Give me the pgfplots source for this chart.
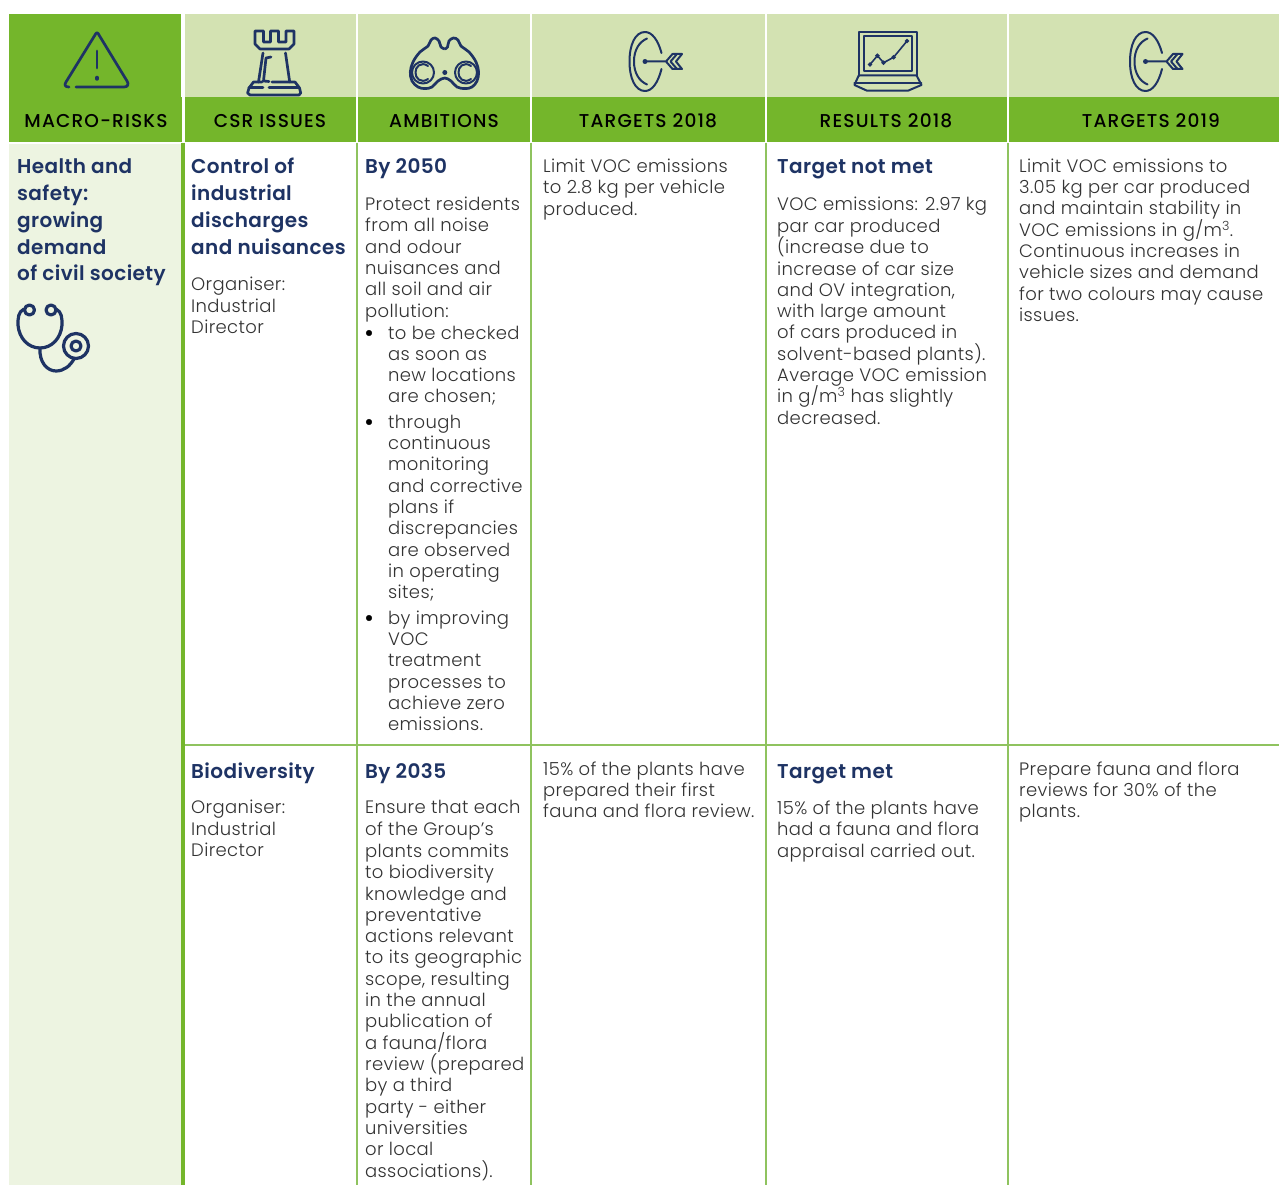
\documentclass[border=0pt]{standalone}
\usepackage{pgfplots}
\usepackage{fontspec}
\pgfplotsset{compat=1.18}
\setmainfont{Poppins}[UprightFont=* Light,BoldFont=* SemiBold,LetterSpace=2]
\newfontfamily\med{Poppins Medium}[LetterSpace=6]
\definecolor{gr}{HTML}{74B62B}
\definecolor{pale}{HTML}{D3E2B2}
\definecolor{lft}{HTML}{EDF4E1}
\definecolor{navy}{HTML}{1E3364}
\definecolor{ln}{HTML}{8FC35F}
\definecolor{body}{HTML}{333333}
\newcommand\R[5]{\addplot[fill=#1,draw=none,forget plot] coordinates {(#2,#3) (#4,#3) (#4,#5) (#2,#5)} --cycle;}
\newcommand\V[3]{\addplot[ln,line width=1.5pt,forget plot] coordinates {(#1,#2) (#1,#3)};}
\newcommand\W[3]{\addplot[white,line width=1.5pt,forget plot] coordinates {(#1,#2) (#1,#3)};}
% body text: x, baseline y
\newcommand\T[3]{\node[anchor=base west,inner sep=0pt,text=body,font=\fontsize{18}{20}\selectfont] at (axis cs:#1,#2) {#3};}
\newcommand\B[3]{\node[anchor=base west,inner sep=0pt,text=navy,font=\fontsize{20}{22}\selectfont\bfseries] at (axis cs:#1,#2) {#3};}
\newcommand\HD[2]{\node[anchor=base,inner sep=0pt,text=black,font=\fontsize{18.6}{20}\selectfont\med] at (axis cs:#1,127.5) {#2};}
\tikzset{icon/.style={draw=navy,line width=2.7pt,line cap=round,line join=round},
 thin icon/.style={icon,line width=2pt}}
\newcommand\Target[1]{%
\draw[thin icon,xshift=#1pt] (661.5,53) .. controls (658,40) and (652,32) .. (645,32) .. controls (635,32) and (629.5,45) .. (629.5,61.5) .. controls (629.5,78) and (635,91) .. (645,91) .. controls (652,91) and (658,83) .. (661.5,69);
\draw[thin icon,xshift=#1pt] (647,38.5) .. controls (639,42) and (634,50) .. (634,61.5) .. controls (634,73) and (639,81) .. (647,84.5);
\draw[thin icon,xshift=#1pt] (645,61.5) -- (666,61.5) -- (672.5,54) -- (682,54) -- (676,61.5) -- (682,69) -- (672.5,69) -- (666,61.5);
\draw[thin icon,xshift=#1pt] (677,54) -- (670.5,61.5) -- (677,69);
\fill[navy,xshift=#1pt] (645,61.5) circle (2.5pt);}
\begin{document}
\begin{tikzpicture}
\begin{axis}[scale only axis,width=1279pt,height=1185pt,xmin=0,xmax=1279,ymin=0,ymax=1185,y dir=reverse,axis lines=none,clip=true]
\R{white}{0}{0}{1279}{1185}
\R{gr}{9}{14}{181}{97}
\R{pale}{185}{14}{1279}{97}
\R{gr}{9}{97}{1279}{142}
\R{lft}{9}{144}{181}{1185}
\R{gr}{181}{143}{185}{1185}
\W{357}{14}{142}
\W{531}{14}{142}
\W{766}{14}{142}
\W{1008}{14}{142}
\addplot[white,line width=3pt,forget plot] coordinates {(183,14) (183,142)};
\V{357}{143}{1185}
\V{531}{143}{1185}
\V{766}{143}{1185}
\V{1008}{143}{1185}
\addplot[ln,line width=1.5pt,forget plot] coordinates {(185,745) (1279,745)};
\addplot[only marks,mark=*,mark size=2.8pt,black,forget plot] coordinates {(369,333) (369,422) (369,618)};
% icons
\draw[icon] (76,87) -- (124,87) .. controls (128,87) and (129,84) .. (127,81) -- (99,35) .. controls (97.5,32) and (96.5,32) .. (95,35) -- (66,82) .. controls (64,85) and (65,87) .. (69,87);
\draw[icon] (97,51) -- (97,68);
\draw[icon,line width=3.5pt] (97,77.5) -- (97,79);
\draw[icon] (255,31) -- (263.5,31) -- (263.5,42) -- (270.5,42) -- (270.5,31) -- (278.5,31) -- (278.5,42) -- (286,42) -- (286,31) -- (294,31) -- (294,44) -- (289,49) -- (260,49) -- (255,44) -- cycle;
\draw[icon] (263,53) -- (258.5,82);
\draw[icon] (271,57) -- (266,58) -- (263.5,81) -- (269,81.5);
\draw[icon] (285.5,53) -- (289.7,82);
\draw[icon] (272,82) -- (295,82) -- (299.5,88) -- (300.7,93) -- (299,95) -- (250,95) -- (247.6,93) -- (249,88) -- (253.5,82) -- (262,82);
\draw[icon] (249,87.5) -- (263,87.5);
\draw[icon] (269,87.5) -- (299,87.5);
\addplot[navy,line width=2.7pt,smooth,tension=0.6,forget plot] coordinates {(444.8,49) (441,47) (439,41) (435,38) (431,40) (428,46) (420,52) (413,62) (410.3,72) (412,81) (418,87) (425,88.6) (432,87) (438,81) (444.8,78) (451,81) (457,87) (465,88.6) (472,87) (477,81) (478.6,72) (476,62) (469,52) (461,46) (458,40) (453.5,38) (449,41) (447.5,47) (444.8,49)};
\draw[thin icon] (423,72.5) circle (11pt);
\draw[thin icon] (466,72.5) circle (11pt);
\draw[thin icon] (428,66) .. controls (421,61) and (415,67) .. (415.5,72.5) .. controls (415,78) and (421,84) .. (428,79);
\draw[thin icon] (471,66) .. controls (464,61) and (458,67) .. (458.5,72.5) .. controls (458,78) and (464,84) .. (471,79);
\fill[navy] (444.8,72.5) circle (2.5pt);
\Target{0}
\Target{500.5}
\draw[thin icon] (858.7,76) -- (858.7,32) -- (916.6,32) -- (916.6,76);
\draw[thin icon] (863.5,36.5) rectangle (912,71);
\draw[thin icon] (858.7,75.5) -- (916.6,75.5) -- (921.4,85) -- (908,90.7) -- (867,90.7) -- (854.4,85) -- cycle;
\draw[thin icon] (854.4,82.7) -- (921.4,82.7);
\addplot[navy,line width=1.6pt,mark=*,mark size=1.3pt,forget plot] coordinates {(870,64.5) (877.4,55.7) (883.6,62.7) (893.6,57.3) (907,41)};
\draw[icon,line width=3.2pt] (24,309) .. controls (18,312) and (18,318) .. (18,325) .. controls (19,338) and (28,348) .. (40,348) .. controls (52,348) and (61,338) .. (62,325) .. controls (62,318) and (62,312) .. (56,309);
\draw[icon,line width=3.2pt] (29.5,310) circle (5pt);
\draw[icon,line width=3.2pt] (51,310) circle (5pt);
\draw[icon,line width=3.2pt] (40,348) .. controls (39,362) and (47,371) .. (56,371) .. controls (64,371) and (70,366) .. (74,359);
\draw[icon,line width=3.2pt] (76,346) circle (12.5pt);
\draw[icon,line width=3.2pt] (76,346) circle (5pt);
% headers
\HD{96}{MACRO-RISKS}
\HD{270}{CSR ISSUES}
\HD{444}{AMBITIONS}
\HD{648}{TARGETS 2018}
\HD{886}{RESULTS 2018}
\HD{1151}{TARGETS 2019}
% column 1
\B{17}{174}{Health and}
\B{17}{200.5}{safety:}
\B{17}{227}{growing}
\B{17}{254}{demand}
\B{17}{280.5}{of civil society}
% column 2
\B{191}{174}{Control of}
\B{191}{200.5}{industrial}
\B{191}{227}{discharges}
\B{191}{254}{and nuisances}
\T{191}{290}{Organiser:}
\T{191}{312}{Industrial}
\T{191}{333}{Director}
\B{191}{778}{Biodiversity}
\T{191}{813.5}{Organiser:}
\T{191}{835.5}{Industrial}
\T{191}{856.5}{Director}
% column 3
\B{365}{174}{By 2050}
\T{365}{210.5}{Protect residents}
\T{365}{231.5}{from all noise}
\T{365}{253.5}{and odour}
\T{365}{274.5}{nuisances and}
\T{365}{295.5}{all soil and air}
\T{365}{317.5}{pollution:}
\T{388}{339.5}{to be checked}
\T{388}{360.5}{as soon as}
\T{388}{381.5}{new locations}
\T{388}{402.5}{are chosen;}
\T{388}{428.5}{through}
\T{388}{449.5}{continuous}
\T{388}{470.5}{monitoring}
\T{388}{492.5}{and corrective}
\T{388}{513.5}{plans if}
\T{388}{534.5}{discrepancies}
\T{388}{556.5}{are observed}
\T{388}{577.5}{in operating}
\T{388}{598.5}{sites;}
\T{388}{624.5}{by improving}
\T{388}{645.5}{VOC}
\T{388}{666.5}{treatment}
\T{388}{688.5}{processes to}
\T{388}{709.5}{achieve zero}
\T{388}{730.5}{emissions.}
\B{365}{778}{By 2035}
\T{365}{813.5}{Ensure that each}
\T{365}{835.5}{of the Group's}
\T{365}{857.5}{plants commits}
\T{365}{878.5}{to biodiversity}
\T{365}{900.5}{knowledge and}
\T{365}{921.5}{preventative}
\T{365}{942.5}{actions relevant}
\T{365}{963.5}{to its geographic}
\T{365}{985.5}{scope, resulting}
\T{365}{1006.5}{in the annual}
\T{365}{1027.5}{publication of}
\T{365}{1049.5}{a fauna/flora}
\T{365}{1070.5}{review (prepared}
\T{365}{1091.5}{by a third}
\T{365}{1113.5}{party - either}
\T{365}{1134.5}{universities}
\T{365}{1155.5}{or local}
\T{365}{1177.5}{associations).}
% column 4
\T{543}{172.5}{Limit VOC emissions}
\T{543}{193.5}{to 2.8 kg per vehicle}
\T{543}{215.5}{produced.}
\T{543}{775.5}{15\% of the plants have}
\T{543}{796.5}{prepared their first}
\T{543}{817.5}{fauna and flora review.}
% column 5
\B{777}{174}{Target not met}
\T{777}{210.5}{VOC emissions: 2.97 kg}
\T{777}{232.5}{par car produced}
\T{777}{253.5}{(increase due to}
\T{777}{275}{increase of car size}
\T{777}{296.5}{and OV integration,}
\T{777}{317.5}{with large amount}
\T{777}{338.5}{of cars produced in}
\T{777}{360.5}{solvent-based plants).}
\T{777}{381.5}{Average VOC emission}
\T{777}{402.5}{in g/m\textsuperscript{3} has slightly}
\T{777}{424.5}{decreased.}
\B{777}{778}{Target met}
\T{777}{814.5}{15\% of the plants have}
\T{777}{835.5}{had a fauna and flora}
\T{777}{857.5}{appraisal carried out.}
% column 6
\T{1019}{172.5}{Limit VOC emissions to}
\T{1019}{193.5}{3.05 kg per car produced}
\T{1019}{214.5}{and maintain stability in}
\T{1019}{236.5}{VOC emissions in g/m\textsuperscript{3}.}
\T{1019}{257.5}{Continuous increases in}
\T{1019}{278.5}{vehicle sizes and demand}
\T{1019}{300.5}{for two colours may cause}
\T{1019}{321.5}{issues.}
\T{1019}{775.5}{Prepare fauna and flora}
\T{1019}{796.5}{reviews for 30\% of the}
\T{1019}{817.5}{plants.}
\end{axis}
\end{tikzpicture}
\end{document}
